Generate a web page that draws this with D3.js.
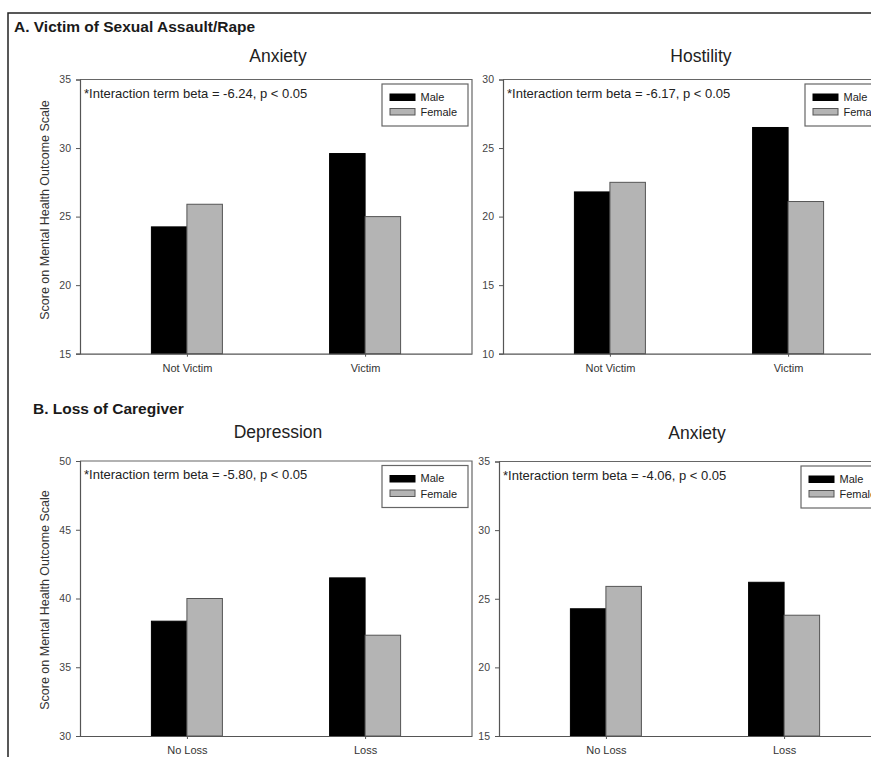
<!DOCTYPE html>
<html>
<head>
<meta charset="utf-8">
<script src="https://cdn.jsdelivr.net/npm/d3@7"></script>
<style>
  body { margin: 0; background: #fff; }
  text { font-family: "Liberation Sans", Arial, sans-serif; }
</style>
</head>
<body>
<svg id="chart" width="871" height="757"></svg>
<script>
// data
const seriesNames = ["Male", "Female"];
const victimCats = ["Not Victim", "Victim"];
const lossCats = ["No Loss", "Loss"];

const anxietyA_male = [24.25, 29.6];
const anxietyA_female = [25.9, 25.0];
const hostility_male = [21.8, 26.5];
const hostility_female = [22.5, 21.1];
const depression_male = [38.35, 41.5];
const depression_female = [40.0, 37.33];
const anxietyB_male = [24.27, 26.2];
const anxietyB_female = [25.9, 23.8];

const ticksAnxA = [15, 20, 25, 30, 35];
const ticksHost = [10, 15, 20, 25, 30];
const ticksDep = [30, 35, 40, 45, 50];
const ticksAnxB = [15, 20, 25, 30, 35];

const notes = [
  "*Interaction term beta = -6.24, p < 0.05",
  "*Interaction term beta = -6.17, p < 0.05",
  "*Interaction term beta = -5.80, p < 0.05",
  "*Interaction term beta = -4.06, p < 0.05"
];

const colors = { Male: "#000", Female: "#b4b4b4" };
const yLabel = "Score on Mental Health Outcome Scale";

const svg = d3.select("#chart");

// outer frame
svg.append("path")
  .attr("d", "M8,780 V13 H880")
  .attr("fill", "none")
  .attr("stroke", "#222")
  .attr("stroke-width", 1.5);

svg.append("text").attr("x", 14).attr("y", 32)
  .attr("font-size", 15.5).attr("font-weight", "bold").attr("fill", "#1a1a1a")
  .text("A. Victim of Sexual Assault/Rape");
svg.append("text").attr("x", 33).attr("y", 414)
  .attr("font-size", 15.5).attr("font-weight", "bold").attr("fill", "#1a1a1a")
  .text("B. Loss of Caregiver");

const W = 392;

const panels = [
  { title: "Anxiety", x0: 80, top: 79.5, bottom: 353.7, titleY: 62, labY: 210, cats: victimCats, male: anxietyA_male, female: anxietyA_female, ticks: ticksAnxA, note: notes[0], ylab: true },
  { title: "Hostility", x0: 503, top: 79.5, bottom: 353.7, titleY: 62, cats: victimCats, male: hostility_male, female: hostility_female, ticks: ticksHost, note: notes[1], ylab: false },
  { title: "Depression", x0: 80, top: 461, bottom: 736, titleY: 438, labY: 600, cats: lossCats, male: depression_male, female: depression_female, ticks: ticksDep, note: notes[2], ylab: true },
  { title: "Anxiety", x0: 499, top: 461.5, bottom: 736, titleY: 439, cats: lossCats, male: anxietyB_male, female: anxietyB_female, ticks: ticksAnxB, note: notes[3], ylab: false }
];

panels.forEach(p => {
  const g = svg.append("g").attr("transform", `translate(${p.x0},0)`);

  const x = d3.scalePoint().domain(p.cats).range([0, W]).padding(0.6);
  const xs = d3.scaleBand().domain(seriesNames).range([-35.5, 35.5]);
  const y = d3.scaleLinear().domain(d3.extent(p.ticks)).range([p.bottom, p.top]);

  // bars
  seriesNames.forEach(s => {
    const vals = s === "Male" ? p.male : p.female;
    g.selectAll(null)
      .data(p.cats.map((c, i) => ({ c, v: vals[i] })))
      .join("rect")
      .attr("x", d => x(d.c) + xs(s))
      .attr("y", d => y(d.v))
      .attr("width", xs.bandwidth())
      .attr("height", d => p.bottom - y(d.v))
      .attr("fill", colors[s])
      .attr("stroke", s === "Male" ? "#000" : "#555")
      .attr("stroke-width", 1);
  });

  // box (top + right)
  g.append("path")
    .attr("d", `M0,${p.top} H${W} V${p.bottom}`)
    .attr("fill", "none").attr("stroke", "#666").attr("stroke-width", 1.2);

  // y axis
  const ya = g.append("g").call(d3.axisLeft(y).tickValues(p.ticks).tickSize(4).tickPadding(5));
  ya.select(".domain").attr("stroke", "#555").attr("stroke-width", 1.2);
  ya.selectAll(".tick line").attr("stroke", "#555");
  ya.selectAll("text").attr("font-size", 10.5).attr("fill", "#444")
    .attr("font-family", "Liberation Sans, Arial, sans-serif");

  // x axis
  const xa = g.append("g").attr("transform", `translate(0,${p.bottom})`)
    .call(d3.axisBottom(x).tickSize(3).tickSizeOuter(0).tickPadding(7.5));
  xa.select(".domain").attr("stroke", "#555").attr("stroke-width", 1.2);
  xa.selectAll(".tick line").attr("stroke", "#555");
  xa.selectAll("text").attr("font-size", 11).attr("fill", "#333")
    .attr("font-family", "Liberation Sans, Arial, sans-serif");

  // panel title
  g.append("text").attr("x", 198).attr("y", p.titleY)
    .attr("text-anchor", "middle").attr("font-size", 17.5).attr("fill", "#222")
    .text(p.title);

  // note
  g.append("text").attr("x", 4).attr("y", p.top + 18)
    .attr("font-size", 13).attr("fill", "#222")
    .text(p.note);

  // legend
  const lg = g.append("g").attr("transform", `translate(302,${p.top + 4.5})`);
  lg.append("rect").attr("width", 86).attr("height", 42)
    .attr("fill", "#fff").attr("stroke", "#666").attr("stroke-width", 1.2);
  seriesNames.forEach((s, i) => {
    lg.append("rect").attr("x", 8).attr("y", 10 + i * 14.5).attr("width", 25).attr("height", 6.5)
      .attr("fill", colors[s]).attr("stroke", s === "Male" ? "#000" : "#555");
    lg.append("text").attr("x", 38.5).attr("y", 16.5 + i * 15.5)
      .attr("font-size", 11).attr("fill", "#222").text(s);
  });

  // y label
  if (p.ylab) {
    svg.append("text")
      .attr("transform", `translate(45,${p.labY}) rotate(-90)`)
      .attr("dy", "0.35em")
      .attr("text-anchor", "middle").attr("font-size", 12.5).attr("fill", "#333")
      .text(yLabel);
  }
});
</script>
</body>
</html>
